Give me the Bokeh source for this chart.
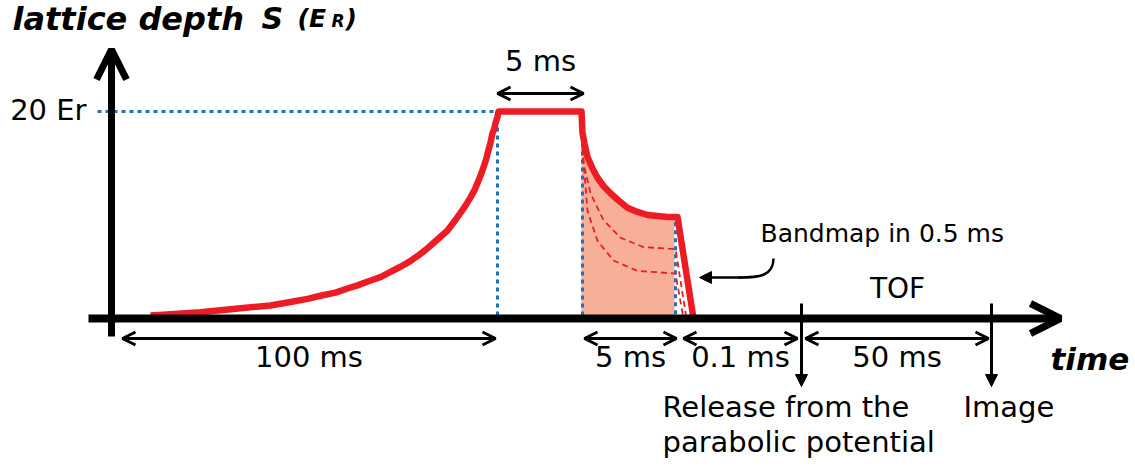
from bokeh.plotting import figure
from bokeh.models import Range1d, Arrow, OpenHead, NormalHead, Label
from bokeh.embed import file_html
from bokeh.resources import INLINE

# ---- lattice depth sequence (schematic time axis, depth in E_R) ----
# exponential-like loading ramp
ramp_t = [150, 170, 200, 220, 240, 270, 290, 307, 320, 335, 347, 357, 368, 380, 390, 400, 409, 418,
          426, 433, 440, 447, 454, 460, 465, 470, 474, 477, 480, 483, 486, 488, 490, 492, 494, 495, 497, 498]
ramp_s = [0.3, 0.4, 0.6, 0.8, 1.0, 1.25, 1.6, 1.9, 2.2, 2.5, 2.9, 3.2, 3.6, 4.0, 4.5, 5.0, 5.5, 6.1,
          6.7, 7.3, 7.9, 8.5, 9.4, 10.2, 10.9, 11.7, 12.4, 13.1, 13.8, 14.6, 15.5, 16.3, 17.0, 17.9, 18.4, 18.9, 19.5, 20.0]

# hold at full depth
hold_t = [498, 581]
hold_s = [20.0, 20.0]

# fast decrease of the depth
decay_t = [581, 582, 584, 587, 592, 597, 603, 610, 618, 627, 637, 647, 657, 667, 677]
decay_s = [20.0, 17.9, 16.9, 15.6, 14.5, 13.6, 12.8, 12.1, 11.4, 10.7, 10.3, 10.0, 9.9, 9.8, 9.8]

# band mapping switch-off
bandmap_t = [677, 693]
bandmap_s = [9.8, 0.0]

# alternative (shallower) end depths
alt1_t = [582, 583, 590, 603, 620, 643, 675, 686]
alt1_s = [16.5, 15.0, 12.1, 9.5, 7.8, 6.9, 6.7, 0.0]
alt2_t = [582, 587, 597, 613, 637, 675, 683]
alt2_s = [16.5, 10.4, 7.5, 5.6, 4.6, 4.35, 0.0]

full_depth = 20
full_depth_label = "20 Er"

# phase boundaries on the time axis
t_ramp_end = 497
t_hold_end = 581
t_decay_end = 676
t_release = 801
t_image = 991

# duration markers: (start, end, label)
durations = [
    (122, 495, "100 ms"),
    (584, 676, "5 ms"),
    (683, 797, "0.1 ms"),
    (805, 988, "50 ms"),
]
hold_marker = (497, 583, "5 ms")

RED = "#ed1c24"
BLUE = "#1b75bc"
FILL = "#f7b097"
FONT = "DejaVu Sans"

# pixel rows of the picture map onto the depth axis at 10.35 px per E_R
px_per_er = 10.35
row_axis = 318
y_top = row_axis / px_per_er
y_bot = (row_axis - 467) / px_per_er

p = figure(width=1135, height=467, x_range=Range1d(0, 1135), y_range=Range1d(y_bot, y_top),
           output_backend="svg", toolbar_location=None, min_border=0)
p.axis.visible = False
p.grid.visible = False
p.outline_line_color = None
p.background_fill_color = "white"
p.border_fill_color = "white"


def er(row):
    return (row_axis - row) / px_per_er


# shaded area under the decreasing depth
p.varea(x=decay_t[:-1] + [674], y1=0, y2=decay_s[:-1] + [9.8], fill_color=FILL, fill_alpha=1)

# blue dotted guides
p.line([97, t_ramp_end], [full_depth, full_depth], line_color=BLUE, line_width=3, line_dash="4 4")
p.line([t_ramp_end, t_ramp_end], [full_depth, 0], line_color=BLUE, line_width=3, line_dash="4 4")
p.line([t_hold_end + 1, t_hold_end + 1], [full_depth, 0], line_color=BLUE, line_width=3, line_dash="4 4")
p.line([t_decay_end - 1, t_decay_end - 1], [9.3, 0], line_color=BLUE, line_width=3, line_dash="4 4")

# alternative ramps (dashed)
p.line(alt1_t, alt1_s, line_color=RED, line_width=1.8, line_dash="6 4")
p.line(alt2_t, alt2_s, line_color=RED, line_width=1.8, line_dash="6 4")

# main depth profile
prof_t = ramp_t + hold_t[1:] + decay_t[1:] + bandmap_t[1:]
prof_s = ramp_s + hold_s[1:] + decay_s[1:] + bandmap_s[1:]
p.line(prof_t, prof_s, line_color=RED, line_width=6.5, line_join="round")

# axes with arrow heads
p.add_layout(Arrow(end=OpenHead(size=30, line_width=7, line_color="black"),
                   x_start=88, y_start=0, x_end=1060, y_end=0, line_width=8, line_color="black"))
p.add_layout(Arrow(end=OpenHead(size=30, line_width=7, line_color="black"),
                   x_start=111, y_start=er(336), x_end=111, y_end=er(49), line_width=7, line_color="black"))

# duration markers
y_dur = er(338)
for t0, t1, _ in durations:
    p.add_layout(Arrow(start=OpenHead(size=13, line_width=3), end=OpenHead(size=13, line_width=3),
                       x_start=t0, y_start=y_dur, x_end=t1, y_end=y_dur, line_width=3))
p.add_layout(Arrow(start=OpenHead(size=13, line_width=3), end=OpenHead(size=13, line_width=3),
                   x_start=hold_marker[0], y_start=er(93), x_end=hold_marker[1], y_end=er(93), line_width=3))

# release and image events
for t in (t_release, t_image):
    p.add_layout(Arrow(end=NormalHead(size=12, fill_color="black", line_color="black"),
                       x_start=t, y_start=er(303), x_end=t, y_end=er(386), line_width=3))

# pointer to the band-mapping slope
p.bezier(x0=[773], y0=[er(258)], x1=[738], y1=[er(277)], cx0=[773], cy0=[er(276)],
         cx1=[758], cy1=[er(277)], line_color="black", line_width=2.5)
p.add_layout(Arrow(end=NormalHead(size=12, fill_color="black", line_color="black", line_width=1),
                   x_start=742, y_start=er(277), x_end=699, y_end=er(277), line_width=2.5))

# text baseline sits about 12 px below the requested anchor row, so anchor higher
BASE_SHIFT = 12


def label(x, row, text, size, align="center", style="normal"):
    p.add_layout(Label(x=x, y=er(row - BASE_SHIFT), text=text, text_font=FONT, text_font_size=f"{size}px",
                       text_align=align, text_baseline="alphabetic", text_font_style=style,
                       text_color="black"))


label(86, 121, full_depth_label, 29, align="right")
label((hold_marker[0] + hold_marker[1]) / 2, 72, hold_marker[2], 29)
for t0, t1, txt in durations:
    label((t0 + t1) / 2, 368, txt, 29)
label(897, 300, "TOF", 28)
label(760, 245, "Bandmap in 0.5 ms", 25, align="left")
label(662, 418, "Release from the", 29, align="left")
label(662, 453, "parabolic potential", 29, align="left")
label(963, 418, "Image", 29, align="left")
label(1050, 370, "time", 31, align="left", style="bold italic")

# axis title
label(12, 30, "lattice depth", 32, align="left", style="bold italic")
label(261, 30, "S", 30, align="left", style="bold italic")
label(297, 30, "(E", 25, align="left", style="bold italic")
label(331, 32, "R", 17, align="left", style="bold italic")
label(345, 30, ")", 25, align="left", style="bold italic")

open("out.html", "w").write(file_html(p, INLINE))
